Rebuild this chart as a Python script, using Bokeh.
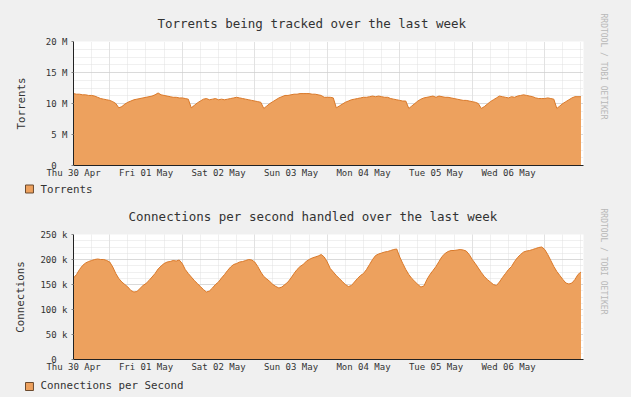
from bokeh.plotting import figure
from bokeh.layouts import column
from bokeh.models import Range1d, FixedTicker, Title
from bokeh.embed import file_html
from bokeh.resources import INLINE

# ---------------- data (hours since Thu 30 Apr 12:00) ----------------
hours = list(range(169))

torrents_m = [
    11.6, 11.5, 11.5, 11.4, 11.4, 11.3, 11.3, 11.2, 11.0, 10.8, 10.7, 10.6,
    10.5, 10.3, 10.0, 9.3, 9.5, 9.9, 10.2, 10.4, 10.6, 10.7, 10.8, 10.9,
    11.0, 11.1, 11.2, 11.4, 11.7, 11.4, 11.3, 11.2, 11.1, 11.0, 11.0, 10.9,
    10.9, 10.8, 10.7, 9.3, 9.7, 10.1, 10.4, 10.7, 10.8, 10.6, 10.7, 10.8,
    10.6, 10.7, 10.6, 10.7, 10.8, 10.9, 11.0, 10.9, 10.8, 10.7, 10.6, 10.5,
    10.4, 10.3, 10.2, 9.2, 9.6, 10.0, 10.3, 10.6, 10.9, 11.1, 11.3, 11.3,
    11.4, 11.5, 11.5, 11.6, 11.6, 11.6, 11.6, 11.5, 11.5, 11.4, 11.3, 11.0,
    11.0, 11.0, 10.9, 9.3, 9.6, 9.9, 10.2, 10.4, 10.6, 10.7, 10.8, 10.9,
    11.0, 11.0, 11.1, 11.2, 11.1, 11.2, 11.1, 11.0, 11.0, 10.8, 10.7, 10.6,
    10.5, 10.4, 10.4, 9.2, 9.6, 10.0, 10.4, 10.7, 10.9, 11.0, 11.1, 11.2,
    11.0, 11.2, 11.1, 11.0, 11.0, 10.9, 10.8, 10.7, 10.6, 10.5, 10.5, 10.4,
    10.3, 10.2, 10.0, 9.2, 9.5, 9.9, 10.3, 10.6, 10.9, 11.2, 11.1, 11.0,
    10.9, 11.1, 11.0, 11.2, 11.3, 11.4, 11.3, 11.2, 11.1, 10.9, 10.8, 10.8,
    10.8, 10.9, 10.8, 10.7, 9.2, 9.6, 10.0, 10.3, 10.6, 10.9, 11.1, 11.1,
    11.1,
]

connections_k = [
    163, 170, 180, 188, 193, 196, 198, 200, 201, 200, 200, 198,
    195, 185, 172, 162, 155, 150, 145, 138, 135, 136, 142, 148,
    152, 158, 165, 172, 181, 187, 192, 195, 196, 198, 197, 199,
    192, 180, 172, 165, 158, 152, 146, 140, 135, 137, 143, 150,
    155, 163, 170, 178, 185, 190, 192, 195, 196, 198, 200, 199,
    195, 186, 175, 166, 161, 156, 150, 146, 143, 145, 150, 155,
    163, 172, 180, 186, 190, 196, 200, 203, 205, 207, 210, 205,
    195, 182, 175, 168, 162, 156, 150, 146, 148, 155, 162, 168,
    172, 180, 190, 200, 208, 211, 213, 215, 216, 218, 220, 221,
    205, 192, 180, 170, 162, 156, 150, 145, 147, 160, 170, 178,
    186, 196, 206, 212, 216, 218, 218, 219, 220, 219, 217, 210,
    200, 192, 183, 174, 166, 160, 155, 150, 148, 155, 164, 172,
    180, 186, 196, 204, 210, 215, 217, 218, 220, 222, 224, 225,
    220, 210, 198, 186, 176, 168, 160, 153, 151, 153, 160, 170,
    175,
]

day_labels = ["Thu 30 Apr", "Fri 01 May", "Sat 02 May", "Sun 03 May",
              "Mon 04 May", "Tue 05 May", "Wed 06 May"]
label_hours = [0, 24, 48, 72, 96, 120, 144]          # noon of each day
midnight_hours = [12, 36, 60, 84, 108, 132, 156]
six_hour_ticks = [h for h in range(0, 169, 6) if (h - 12) % 24 != 0]

top_ticks = [0, 5, 10, 15, 20]
top_tick_labels = ["0\u00a0\u00a0", "5 M", "10 M", "15 M", "20 M"]
bot_ticks = [0, 50, 100, 150, 200, 250]
bot_tick_labels = ["0\u00a0\u00a0", "50 k", "100 k", "150 k", "200 k", "250 k"]

# ---------------- styling / layout constants ----------------
FONT = "DejaVu Sans Mono"
BG = "#F0F0F0"
TXT = "#333333"
FILL = "#EDA15E"
EDGE = "#D9792A"
SWATCH_EDGE = "#6B4A2E"
AXIS = "#222222"
W = 631
XMAX = 168.83
FRAME_L, FRAME_R = 73, 583
P1_H, P1_TOP = 180, 41
P2_TOP_ABS = 234
P2_H = 397 - P1_H
P2_TOP = P2_TOP_ABS - P1_H


def make_chart(vals, ymax, ticks, tick_labels, minor_step, title, title_off,
               ylab, ylab_standoff, wm_off, height, top_border):
    p = figure(width=W, height=height, output_backend="svg",
               toolbar_location=None, title_location=None,
               x_range=Range1d(0, XMAX), y_range=Range1d(0, ymax),
               min_border_left=FRAME_L, min_border_right=W - FRAME_R,
               min_border_top=top_border,
               min_border_bottom=height - top_border - 125)
    p.border_fill_color = BG
    p.background_fill_color = "white"
    p.outline_line_color = None

    p.varea(x=hours, y1=0, y2=vals, fill_color=FILL, fill_alpha=1)
    p.line(x=hours, y=vals, line_color=EDGE, line_width=1)

    # x axis
    xa = p.xaxis[0]
    xa.ticker = FixedTicker(ticks=label_hours)
    xa.major_label_overrides = {h: l for h, l in zip(label_hours, day_labels)}
    xa.major_tick_in = 0
    xa.major_tick_out = 0
    xa.minor_tick_in = 0
    xa.minor_tick_out = 0
    xa.major_tick_line_color = None
    xa.minor_tick_line_color = None
    xa.axis_line_color = AXIS
    xa.major_label_standoff = 2
    xa.major_label_text_font = FONT
    xa.major_label_text_font_size = "9px"
    xa.major_label_text_color = TXT

    # y axis
    ya = p.yaxis[0]
    ya.ticker = FixedTicker(ticks=ticks)
    ya.major_label_overrides = {t: l for t, l in zip(ticks, tick_labels)}
    ya.major_tick_in = 0
    ya.major_tick_out = 2
    ya.minor_tick_in = 0
    ya.minor_tick_out = 0
    ya.major_tick_line_color = "#888888"
    ya.minor_tick_line_color = None
    ya.axis_line_color = AXIS
    ya.major_label_standoff = 4
    ya.major_label_text_font = FONT
    ya.major_label_text_font_size = "9px"
    ya.major_label_text_color = TXT
    ya.axis_label = ylab
    ya.axis_label_standoff = ylab_standoff
    ya.axis_label_text_font = FONT
    ya.axis_label_text_font_size = "10.8px"
    ya.axis_label_text_font_style = "normal"
    ya.axis_label_text_color = TXT

    # grids
    p.xgrid.ticker = FixedTicker(ticks=midnight_hours, minor_ticks=six_hour_ticks)
    p.xgrid.grid_line_color = "#C4C4C4"
    p.xgrid.grid_line_dash = "1 1"
    p.xgrid.minor_grid_line_color = "#E0E0E0"
    p.xgrid.minor_grid_line_dash = "1 1"
    minor_y = [i * minor_step for i in range(int(round(ymax / minor_step)) + 1)]
    p.ygrid.ticker = FixedTicker(ticks=ticks[1:], minor_ticks=minor_y)
    p.ygrid.grid_line_color = "#C4C4C4"
    p.ygrid.grid_line_dash = "1 1"
    p.ygrid.minor_grid_line_color = "#E0E0E0"
    p.ygrid.minor_grid_line_dash = "1 1"

    # chart title
    p.add_layout(Title(text=title, align="left", offset=title_off,
                       vertical_align="bottom", standoff=22,
                       text_font=FONT, text_font_size="12.5px",
                       text_font_style="normal", text_color=TXT), "above")
    # vertical watermark on the right
    p.add_layout(Title(text="RRDTOOL / TOBI OETIKER", align="left", offset=wm_off,
                       vertical_align="bottom", standoff=31,
                       text_font=FONT, text_font_size="8px",
                       text_font_style="normal", text_color="#B8B8B8"), "right")
    return p


def legend_text(text, standoff, valign):
    return Title(text=text, align="left", offset=40 - FRAME_L,
                 vertical_align=valign, standoff=standoff,
                 text_font=FONT, text_font_size="10.8px",
                 text_font_style="normal", text_color=TXT)


def legend_box(standoff, valign):
    """Legend colour box: an empty title box filled orange with a dark border."""
    try:
        return Title(text="\u00a0\u00a0", align="left", offset=25 - FRAME_L,
                     vertical_align=valign, standoff=standoff,
                     text_font=FONT, text_font_size="6.6px", text_color=FILL,
                     background_fill_color=FILL, border_line_color=SWATCH_EDGE,
                     border_line_width=1)
    except Exception:
        return None


p1 = make_chart(torrents_m, 20, top_ticks, top_tick_labels, 1.25,
                "Torrents being tracked over the last week", 84,
                "Torrents", 15, -28, P1_H, P1_TOP)
p2 = make_chart(connections_k, 250, bot_ticks, bot_tick_labels, 12.5,
                "Connections per second handled over the last week", 55,
                "Connections", 10, -26, P2_H, P2_TOP)

# legend of the first chart sits in the band above the second chart
p2.add_layout(legend_text("Torrents", 0, "bottom"), "above")
box1 = legend_box(-25, "bottom")
if box1 is not None:
    p2.add_layout(box1, "above")
# legend of the second chart sits under its own x axis
p2.add_layout(legend_text("Connections per Second", 8, "top"), "below")
box2 = legend_box(-30, "top")
if box2 is not None:
    p2.add_layout(box2, "below")

layout = column(p1, p2, spacing=0)
layout.background = BG

open("out.html", "w").write(file_html(layout, INLINE))
